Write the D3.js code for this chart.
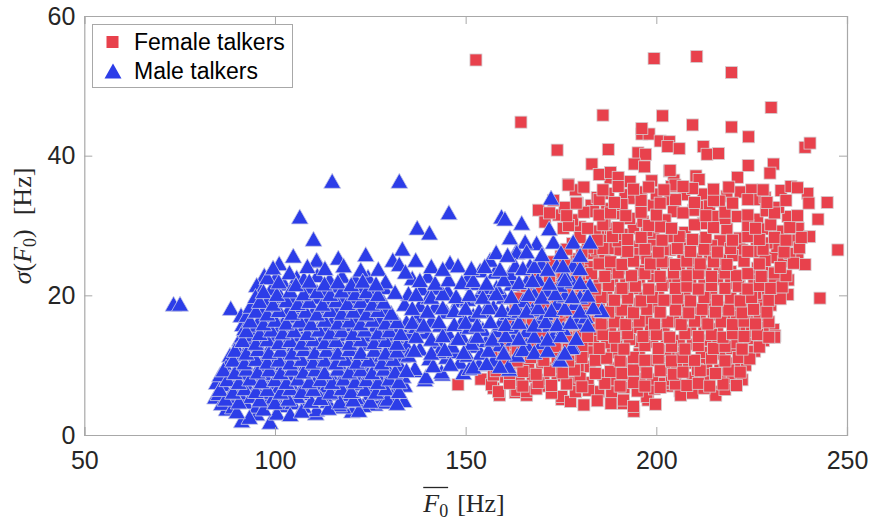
<!DOCTYPE html>
<html>
<head>
<meta charset="utf-8">
<script src="https://cdn.jsdelivr.net/npm/d3@7"></script>
<style>
  body { margin: 0; background: #fff; }
  svg { display: block; }
  .tick text { font-family: "Liberation Sans", Arial, sans-serif; font-size: 25px; fill: #262626; }
</style>
</head>
<body>
<svg width="873" height="521"></svg>
<script>
// tick values
const xTicks = [50, 100, 150, 200, 250];
const yTicks = [0, 20, 40, 60];
const seriesNames = ["Female talkers", "Male talkers"];

// [mean F0, sigma F0]
const femalePoints = [
  [152.7,53.7],[199.4,53.9],[210.6,54.2],[219.7,51.9],[230.1,46.9],[164.5,44.8],[186.0,45.8],[201.6,45.7],[209.5,44.4],[219.7,44.1],
  [224.2,42.7],[174.0,40.8],[187.4,40.9],[239.0,41.2],[240.3,41.8],[196.2,43.1],[198.1,43.1],[196.2,43.9],[201.0,42.1],[203.4,42.0],
  [203.0,41.3],[206.0,41.0],[212.3,41.3],[213.3,40.2],[216.3,40.3],[195.2,40.4],[197.2,40.2],[183.1,38.8],[194.2,38.8],[196.9,38.4],
  [203.4,37.8],[210.4,37.1],[211.2,36.6],[224.1,38.6],[230.7,38.8],[229.8,37.5],[221.3,36.9],[222.0,34.8],[225.0,35.1],[226.7,33.7],
  [232.7,35.0],[235.3,35.6],[239.7,34.6],[244.8,33.3],[218.5,34.2],[176.9,35.9],[178.8,35.1],[179.3,33.2],[182.9,32.9],[204.6,36.5],
  [204.0,35.6],[212.3,34.5],[221.2,31.3],[226.5,30.9],[228.8,32.1],[228.8,29.5],[234.5,31.3],[242.4,30.9],[237.2,29.6],[240.2,28.4],
  [235.3,27.9],[247.6,26.5],[237.1,25.1],[239.0,24.4],[230.7,25.4],[231.6,27.0],[218.5,29.5],[216.7,27.8],[221.8,28.2],[226.3,27.9],
  [225.9,26.3],[222.5,26.5],[211.9,32.7],[213.9,32.8],[215.4,31.3],[212.3,30.3],[209.7,32.2],[204.5,32.0],[202.3,30.8],[204.9,35.8],
  [207.3,34.4],[209.5,35.3],
  [242.9,19.6],[234.5,20.1],[233.3,24.8],[234.6,22.2],[228.2,19.8],[228.5,17.7],[224.4,16.2],[230.7,15.1],[231.1,14.2],[228.1,13.5],
  [222.0,15.5],[220.4,15.4],[223.3,20.9],[220.9,18.1],[225.6,22.4],[221.8,22.7],[218.0,13.7],[216.0,14.0],[222.0,11.8],[223.3,10.2],
  [216.7,11.6],[216.7,9.3],[215.5,6.2],[206.2,6.3],[202.7,7.4],[203.4,11.2],[208.4,10.3],[213.2,10.2],[218.5,8.8],[214.1,8.7],
  [148.0,7.2],[154.0,8.0],[157.3,6.7],[158.9,5.7],[163.0,6.1],[166.0,5.7],[171.1,7.0],[175.2,5.1],[178.5,7.5],[182.1,7.5],
  [184.9,6.2],[188.1,4.5],[191.4,4.5],[194.1,3.4],[197.8,5.0],[202.9,7.0],[206.4,5.7],[215.6,5.7],[219.9,8.0],[223.4,10.0],
  [231.0,14.0],[156.8,7.2],[158.6,6.2],[163.4,6.4],[166.0,6.2],[175.2,5.5],[182.2,6.4],[188.3,6.2],[191.4,5.0],[194.0,4.1],
  [197.5,5.5],[201.8,7.4],[204.0,7.9],[157.3,8.6],
  [183.5,26.0],[188.7,26.7],[194.8,27.0],[199.2,27.2],[203.6,26.5],[187.4,23.2],[194.0,21.0],[199.2,22.7],[203.6,19.3],[192.2,17.9],
  [197.5,16.5],[190.5,14.1],[195.7,13.4],[202.7,14.1],[183.5,13.6],[185.2,11.0],[192.2,10.3],[199.2,10.7],[205.3,10.3],[180.0,8.3],
  [186.1,8.6],[195.7,8.1],[181.7,17.4],[187.0,19.8],[182.6,24.1],[192.2,25.1],[202.7,24.6],[205.3,22.2],[205.3,16.5],[187.0,16.0],
  [182.6,9.8],
  [187.9,36.8],[193.1,36.3],[198.8,36.4],[203.6,37.9],[176.9,35.8],[179.1,33.2],[187.4,34.6],[191.8,34.4],[194.0,33.9],[199.2,32.9],
  [203.6,33.7],[183.5,32.0],[189.6,31.7],[194.0,29.6],[199.2,28.9],[204.0,28.4],[186.5,28.4],[174.3,31.5],[175.6,29.6],[180.0,29.8],
  [169.1,32.2],[170.8,30.5],[184.3,26.5],[190.5,26.5],[195.7,26.0],[201.8,26.5],[185.0,37.3],[188.0,37.6],[190.0,36.9],
  [177.5,4.8],[181.0,4.3],[184.5,4.9],[199.8,4.4],
  [168.5,6.6],[172.5,6.0],[178.8,6.2],[191.5,6.8],[195.0,6.3],[199.5,6.6],[209.5,6.0],[212.5,6.7],[218.0,6.5],
  [160.5,8.3],[164.0,7.8],[167.5,8.4],[170.5,7.9],[174.0,8.5],[189.2,7.9],[192.5,8.6],[199.0,8.0],[209.5,8.2],[212.8,7.6],[222.5,7.9],
  [159.0,9.6],[163.0,10.2],[166.5,9.7],[170.0,10.3],[173.2,9.6],[176.5,10.1],[179.5,9.9],[189.2,9.6],[195.8,10.0],[202.2,9.5],[210.8,9.4],[220.5,10.3],
  [158.5,11.9],[161.7,11.3],[165.2,11.8],[168.6,11.2],[172.0,11.9],[175.3,12.2],[178.7,11.4],[182.0,11.9],[188.5,11.8],[195.5,11.6],
  [202.5,12.1],[206.5,12.0],[211.8,11.8],[219.8,12.4],[225.8,12.0],
  [158.2,13.6],[161.5,13.1],[165.0,13.8],[168.2,13.2],[171.5,13.7],[175.0,13.3],[178.6,14.0],[187.0,13.2],[193.0,13.7],[199.0,13.3],
  [206.0,13.5],[209.5,13.0],[213.0,13.6],[221.0,13.2],[224.5,13.8],
  [160.0,15.3],[163.5,14.8],[167.0,15.4],[170.5,14.9],[174.0,15.3],[177.5,14.8],[181.0,15.2],[184.5,15.1],[188.0,15.6],[191.5,15.0],
  [195.0,15.4],[198.5,14.9],[202.0,15.5],[209.0,15.0],[212.5,15.6],[216.0,15.2],[225.0,14.8],[228.0,15.6],
  [162.0,16.9],[165.5,16.4],[169.0,17.0],[172.5,16.6],[176.0,17.1],[179.5,16.5],[183.0,17.0],[190.0,16.7],[193.5,17.2],[201.0,17.0],
  [204.5,16.2],[208.0,17.1],[211.5,16.6],[215.0,17.2],[218.5,16.7],[221.0,17.0],[227.0,17.1],
  [163.0,18.7],[166.5,18.2],[170.0,18.8],[173.5,18.3],[177.0,18.8],[185.0,18.5],[188.5,18.2],[195.5,18.8],[199.0,18.3],[207.0,18.6],
  [210.5,18.1],[214.0,18.9],[217.5,18.3],[224.0,18.8],[227.0,18.2],[230.0,18.6],
  [165.0,20.5],[168.5,20.0],[172.0,20.6],[176.0,20.1],[180.0,20.5],[183.5,19.9],[190.5,20.4],[197.0,20.0],[200.5,20.6],[207.5,20.1],
  [211.0,20.7],[214.5,20.2],[218.0,20.8],[226.0,20.3],[231.0,20.6],
  [167.0,22.2],[170.5,21.7],[174.0,22.3],[178.0,21.8],[181.5,22.2],[185.0,21.7],[188.5,22.3],[192.0,21.6],[195.5,22.2],[202.5,21.8],
  [209.0,22.0],[212.5,21.5],[216.0,22.3],[219.5,21.7],[228.0,22.1],[231.0,21.8],
  [170.0,23.9],[173.5,23.4],[177.0,23.9],[180.5,23.5],[190.5,23.8],[196.0,23.5],[199.5,24.0],[206.0,23.6],[209.5,24.1],[213.0,23.5],
  [216.5,24.0],[219.5,23.4],[226.5,23.9],[230.0,23.3],
  [175.0,25.6],[179.0,25.2],[186.5,25.0],[197.5,25.3],[207.0,25.7],[210.5,25.2],[214.0,25.8],[217.0,25.1],[220.0,25.7],[228.5,25.0],[235.0,26.0],
  [178.0,27.4],[182.0,26.8],[190.0,27.8],[207.5,27.3],[211.0,27.8],[214.5,27.1],[229.0,27.5],[233.0,28.6],
  [184.0,29.2],[188.0,29.6],[191.0,28.7],[197.5,29.3],[201.0,29.8],[207.5,29.0],[232.0,29.2],
  [178.0,30.8],[186.5,30.5],[193.0,31.0],[196.5,30.6],[218.0,31.0],
  [176.0,32.6],[187.0,32.4],[191.0,33.0],[232.0,32.6],[216.5,33.5],
  [196.0,34.8],[200.0,34.5],[184.5,34.0],[228.5,34.0],
  [161.5,7.4],[165.0,7.0],[169.0,7.5],[172.5,7.1],[176.5,7.3],[180.5,6.9],[186.5,7.4],[190.5,7.0],[194.0,7.5],[197.0,7.0],
  [201.0,6.8],[205.0,7.3],[208.0,7.1],[211.0,7.4],[214.0,7.0],[217.5,7.3],[221.0,7.1],
  [158.0,9.2],[161.5,8.8],[165.0,9.1],[168.5,8.7],[172.0,9.2],[175.5,8.9],[178.5,9.3],[184.0,8.8],[188.0,9.1],[191.0,8.8],
  [194.0,9.3],[197.5,8.9],[201.0,9.2],[204.5,8.7],[207.0,9.0],[211.5,9.2],[215.5,8.8],[219.0,9.3],[222.0,9.0],
  [160.0,11.0],[163.5,10.6],[167.0,11.1],[170.5,10.7],[174.0,11.0],[177.0,10.6],[180.5,11.1],[184.0,10.7],[187.0,11.0],[190.5,10.6],
  [194.0,11.1],[197.0,10.7],[200.5,11.0],[204.0,10.6],[207.0,11.1],[210.0,10.7],[214.5,11.0],[218.0,10.6],[221.5,11.1],[224.5,10.9],
  [160.0,12.7],[163.5,12.3],[167.0,12.8],[170.5,12.4],[173.5,12.7],[177.0,12.3],[180.5,12.8],[185.0,12.4],[189.5,12.7],[191.5,12.3],
  [197.0,12.8],[200.5,12.4],[204.0,12.7],[207.5,12.3],[211.0,12.8],[215.0,12.4],[218.0,12.7],[222.5,12.3],[227.0,12.6],
  [160.0,14.4],[163.5,14.0],[166.5,14.5],[170.0,14.1],[173.0,14.4],[176.5,14.0],[180.0,14.5],[182.0,14.1],[186.0,14.4],[189.0,14.0],
  [192.5,14.5],[196.5,14.1],[200.0,14.4],[203.5,14.0],[207.5,14.5],[211.0,14.1],[214.5,14.4],[217.5,14.0],[220.0,14.5],[223.0,14.1],
  [226.5,14.4],[229.5,14.0],
  [161.0,16.2],[164.0,15.8],[167.5,16.3],[171.0,15.9],[174.5,16.2],[178.0,15.8],[181.5,16.3],[185.5,15.9],[189.0,16.2],[192.0,15.8],
  [195.5,16.3],[199.5,15.9],[203.0,16.2],[206.5,15.8],[210.0,16.3],[213.5,15.9],[217.0,16.2],[220.0,15.8],[223.0,16.3],[226.0,15.9],
  [229.5,16.2],
  [163.5,17.9],[167.0,17.5],[170.5,18.0],[174.0,17.6],[177.5,17.9],[180.5,17.5],[184.0,18.0],[187.5,17.6],[191.0,17.9],[194.0,17.5],
  [197.5,18.0],[201.0,17.6],[205.0,17.9],[208.5,17.5],[212.0,18.0],[215.5,17.6],[219.0,17.9],[222.5,17.5],[225.5,18.0],[229.0,17.6],
  [164.0,19.6],[167.0,19.2],[170.5,19.7],[174.0,19.3],[178.0,19.6],[181.5,19.2],[185.5,19.7],[189.0,19.3],[192.5,19.6],[196.0,19.2],
  [199.0,19.7],[202.0,19.3],[205.5,19.6],[209.0,19.2],[212.5,19.7],[216.0,19.3],[219.5,19.6],[222.0,19.2],[225.0,19.7],[229.5,19.3],
  [232.5,19.5],
  [166.0,21.3],[169.5,20.9],[173.0,21.4],[177.0,21.0],[180.5,21.3],[184.0,20.9],[187.5,21.4],[191.0,21.0],[194.5,21.3],[198.0,20.9],
  [201.5,21.4],[205.0,21.0],[208.0,21.3],[211.0,20.9],[214.5,21.4],[218.0,21.0],[221.5,21.3],[224.0,20.9],[227.0,21.4],[230.0,21.0],
  [233.0,21.2],
  [168.5,23.1],[172.0,22.7],[175.5,23.2],[179.0,22.8],[183.0,23.1],[186.5,22.7],[190.0,23.2],[193.5,22.8],[197.0,23.1],[201.0,22.7],
  [204.5,23.2],[208.0,22.8],[211.0,23.1],[214.5,22.7],[218.0,23.2],[221.0,22.8],[224.0,23.1],[227.5,22.7],[231.0,23.2],[234.0,22.8],
  [172.0,24.8],[176.0,24.4],[179.5,24.9],[185.0,24.5],[188.0,24.8],[191.0,24.4],[194.0,24.9],[198.5,24.5],[201.5,24.8],[205.0,24.4],
  [208.0,24.9],[211.5,24.5],[215.0,24.8],[218.5,24.4],[223.0,24.9],[227.0,24.5],[232.5,24.0],[236.0,24.6],
  [176.5,26.6],[180.5,26.2],[186.0,26.7],[192.5,26.3],[197.0,26.6],[200.5,26.2],[205.5,26.7],[209.0,26.3],[212.5,26.6],[216.0,26.2],
  [219.5,26.7],[224.0,26.3],[228.0,26.6],[233.5,26.2],[237.5,26.8],
  [180.0,28.3],[184.5,27.9],[188.5,28.4],[192.5,28.0],[196.0,28.3],[201.5,27.9],[206.0,28.4],[209.5,28.0],[213.0,28.3],[220.0,27.9],
  [224.0,28.4],[227.0,28.0],[231.0,28.3],[234.0,27.9],[238.0,28.3],
  [177.0,30.0],[182.0,29.6],[186.0,30.1],[190.0,29.7],[198.0,30.0],[204.0,29.6],[210.0,30.1],[215.0,29.7],[224.0,30.0],[226.0,29.6],
  [230.0,30.1],[235.0,29.7],
  [172.0,31.8],[176.5,31.4],[181.0,31.9],[185.0,31.5],[188.0,31.8],[192.0,31.4],[196.0,31.9],[200.0,31.5],[207.0,31.8],[213.0,31.4],
  [218.0,31.9],[224.0,31.5],[231.0,31.8],[237.0,31.4],
  [173.0,33.6],[179.0,33.2],[185.0,33.7],[189.0,33.3],[196.0,33.6],[201.0,33.2],[205.0,33.7],[210.0,33.3],[215.0,33.6],[220.0,33.2],
  [224.0,33.7],[229.0,33.3],[234.0,33.6],[240.0,33.2],
  [181.0,35.5],[186.0,35.1],[190.0,35.6],[194.0,35.2],[198.0,35.5],[202.0,35.1],[207.0,35.6],[215.0,35.2],[219.0,35.5],[228.0,35.1],
  [237.0,35.4]
];

const malePoints = [
  [73.4,18.8],[75.1,18.8],
  [115.0,36.4],[132.6,36.4],[106.5,31.3],[145.6,31.9],[137.3,29.7],[140.5,29.0],[110.1,28.1],[133.4,26.7],
  [123.8,25.9],[116.6,25.4],[111.1,25.0],[104.8,25.7],[101.1,24.6],[110.9,25.1],[136.9,25.1],[145.9,24.7],[130.9,25.1],[132.6,24.5],
  [97.2,22.9],[100.2,22.6],[95.2,21.5],[96.5,20.8],[102.4,21.7],[105.7,22.6],[107.4,20.0],
  [88.4,18.2],[91.1,17.2],[91.5,15.9],[90.8,13.8],[88.2,11.5],[87.2,9.8],[84.7,7.6],[84.3,5.5],[91.3,2.1],[98.7,1.9],[95.2,3.1],[87.3,3.8],
  [110.7,3.2],[120.2,3.5],[117.9,4.1],[126.2,4.5],[110.9,3.7],[133.8,5.0],[131.0,7.0],[139.3,8.0],[136.5,9.3],[143.9,8.8],
  [149.4,9.0],[126.8,5.5],[124.9,6.0],[115.3,6.0],[111.8,6.4],[108.3,6.0],[110.5,8.8],[123.2,10.3],[126.7,12.2],[131.3,13.4],
  [130.2,10.7],[136.7,9.6],[139.6,8.4],[143.7,9.1],[145.0,11.2],[142.8,13.4],[145.5,14.6],[149.2,16.5],[145.0,17.7],[148.1,19.3],
  [142.0,21.1],[145.3,20.7],[138.5,21.0],[143.0,12.0],[147.1,12.0],[152.6,12.8],
  [86.0,4.6],[89.0,4.1],[92.2,4.8],[95.3,4.2],[98.0,4.9],[101.5,4.3],[104.6,4.7],[107.5,4.2],[113.8,4.9],[116.8,4.4],
  [119.9,5.0],[123.1,4.3],[128.5,4.8],[100.5,3.2],[104.0,3.0],[93.3,2.6],
  [85.2,6.0],[87.9,5.5],[90.6,6.1],[93.8,5.6],[96.9,6.2],[99.6,5.5],[102.6,6.1],[105.8,5.6],[113.0,5.8],[118.4,5.9],
  [121.3,5.4],[127.6,6.3],[130.7,5.7],
  [86.3,7.3],[89.4,6.9],[92.3,7.5],[95.4,7.0],[98.5,7.6],[101.1,7.0],[104.2,7.4],[107.2,6.9],[110.3,7.5],[113.5,7.1],
  [116.7,7.6],[119.8,7.0],[122.9,7.4],[125.6,7.0],[128.7,7.7],[134.0,7.2],
  [85.6,8.7],[88.1,8.3],[91.1,8.9],[94.2,8.4],[97.1,8.9],[100.3,8.2],[103.3,8.8],[106.1,8.3],[113.5,8.6],[115.1,8.3],
  [118.3,8.9],[121.5,8.4],[124.4,8.8],[127.3,8.3],[130.5,8.9],[133.6,8.5],
  [90.4,10.1],[93.1,9.6],[96.2,10.2],[99.1,9.7],[102.1,10.3],[105.2,9.7],[108.1,10.2],[111.3,9.8],[114.4,10.3],[117.5,9.7],
  [120.3,10.0],[126.6,10.2],[129.4,9.7],[132.7,10.1],
  [91.6,11.6],[94.6,11.0],[97.7,11.5],[100.6,11.1],[103.6,11.7],[106.8,11.0],[109.9,11.5],[112.9,11.1],[115.9,11.7],[119.1,11.2],
  [122.1,11.6],[125.1,11.0],[127.9,11.5],[133.5,11.4],
  [90.1,12.4],[93.3,13.0],[96.1,12.5],[99.2,13.1],[102.4,12.5],[105.1,13.0],[108.3,12.6],[111.4,13.1],[114.3,12.5],[117.3,13.0],
  [120.5,12.6],[123.6,13.1],[129.7,12.7],[133.0,12.9],
  [94.1,14.4],[97.4,13.9],[100.6,14.5],[103.7,13.9],[106.7,14.4],[109.6,13.8],[112.8,14.3],[115.7,13.9],[118.9,14.5],[121.9,14.0],
  [124.9,14.4],[128.1,13.9],[131.3,14.5],[134.8,14.2],
  [92.0,15.3],[95.1,15.8],[98.4,15.2],[101.6,15.8],[104.9,15.3],[107.9,15.9],[111.1,15.3],[114.1,15.8],[117.3,15.3],[120.4,15.9],
  [123.4,15.4],[126.5,15.8],[129.6,15.2],[132.8,15.7],
  [92.6,17.2],[96.1,16.7],[99.5,17.2],[102.7,16.6],[105.7,17.1],[108.8,16.7],[112.1,17.3],[115.3,16.7],[118.5,17.1],[121.4,16.6],
  [124.6,17.2],[127.6,16.7],[130.6,17.1],[134.5,16.2],[137.5,17.0],
  [93.6,18.5],[97.1,18.0],[100.4,18.6],[103.7,18.1],[106.9,18.6],[110.3,18.0],[113.4,18.5],[116.4,18.1],[119.7,18.7],[122.7,18.1],
  [125.9,18.5],[129.1,18.0],[134.0,18.8],[138.0,18.6],[141.0,16.4],
  [94.9,19.9],[98.1,19.4],[101.5,19.9],[104.7,19.5],[111.4,19.8],[114.6,19.3],[117.8,19.9],[120.9,19.5],[124.1,19.9],[127.3,19.4],[142.0,18.5],
  [99.1,21.0],[109.1,21.2],[112.6,20.8],[115.9,21.4],[119.1,20.9],[122.3,21.3],[125.5,20.9],[128.6,21.2],[135.0,20.3],
  [98.0,22.6],[103.8,23.3],[107.6,22.4],[111.1,22.9],[114.3,22.3],[117.6,22.8],[121.1,22.3],[124.4,22.7],[136.0,22.5],[140.0,22.8],
  [99.5,24.0],[108.5,24.2],[113.1,23.9],[118.0,24.3],[122.5,23.7],[127.1,23.8],[129.0,22.0],[131.5,20.5],[134.2,23.4],
  [135.5,14.5],[139.5,14.8],[134.5,12.8],[138.0,12.4],[146.5,12.8],[135.0,11.5],[140.5,11.0],[148.5,10.5],[149.0,14.2],[140.3,19.8],
  [137.0,15.6],[143.3,15.8],[141.5,10.0],
  [90.0,3.4],[97.0,3.8],[107.0,3.5],[114.0,3.9],[122.0,3.6],
  [87.0,5.2],[90.5,4.8],[96.0,5.1],[100.0,4.7],[103.5,5.2],[109.5,4.9],[112.0,5.3],[117.0,4.8],[120.5,5.1],[125.0,4.9],[129.5,5.2],[132.0,4.6],
  [85.5,6.6],[89.0,6.2],[92.0,6.7],[95.0,6.3],[98.0,6.6],[101.5,6.2],[104.0,6.7],[107.0,6.3],[110.0,6.6],[114.5,6.2],
  [117.5,6.7],[120.0,6.3],[123.5,6.6],[126.5,6.2],[129.0,6.7],[132.5,6.3],
  [87.5,8.0],[90.5,7.6],[93.5,8.1],[96.5,7.7],[100.0,8.0],[103.0,7.6],[106.0,8.1],[109.0,7.7],[112.0,8.0],[115.0,7.6],
  [118.0,8.1],[121.0,7.7],[124.0,8.0],[127.0,7.6],[130.0,8.1],[132.5,7.7],
  [86.5,9.4],[89.5,9.0],[92.5,9.5],[95.5,9.1],[98.5,9.4],[101.5,9.0],[104.5,9.5],[107.5,9.1],[110.5,9.4],[113.0,9.0],
  [116.5,9.5],[119.5,9.1],[122.5,9.4],[125.5,9.0],[128.5,9.5],[131.5,9.1],[134.5,9.3],
  [89.0,10.8],[92.0,10.4],[95.0,10.9],[98.0,10.5],[101.0,10.8],[104.0,10.4],[107.0,10.9],[110.0,10.5],[113.0,10.8],[116.0,10.4],
  [118.5,10.9],[121.5,10.5],[124.5,10.8],[128.0,10.4],[131.0,10.9],
  [89.5,12.2],[92.5,11.8],[95.5,12.3],[98.5,11.9],[101.5,12.2],[104.5,11.8],[107.5,12.3],[110.5,11.9],[113.5,12.2],[116.5,11.8],
  [119.5,12.3],[122.5,11.9],[126.0,12.2],[129.0,11.8],[132.0,12.1],
  [91.5,13.6],[95.0,13.2],[98.0,13.7],[101.0,13.3],[104.0,13.6],[107.0,13.2],[110.0,13.7],[113.0,13.3],[116.0,13.6],[119.5,13.2],
  [122.5,13.7],[126.0,13.3],[129.0,13.6],[132.0,13.2],
  [92.5,15.0],[96.0,14.6],[99.0,15.1],[102.0,14.7],[105.0,15.0],[108.5,14.6],[111.5,15.1],[114.5,14.7],[117.5,15.0],[120.5,14.6],
  [123.5,15.1],[127.0,14.7],[130.0,15.0],[133.0,14.6],
  [93.5,16.4],[97.0,16.0],[100.0,16.5],[103.0,16.1],[106.5,16.4],[109.5,16.0],[113.0,16.5],[116.5,16.1],[119.5,16.4],[122.5,16.0],
  [125.5,16.5],[129.0,16.1],[132.0,16.3],
  [95.0,17.8],[98.0,17.4],[101.0,17.9],[104.5,17.5],[108.0,17.8],[111.0,17.4],[114.5,17.9],[117.5,17.5],[120.5,17.8],[124.0,17.4],
  [127.0,17.9],[130.5,17.5],
  [96.0,19.2],[99.5,18.8],[103.0,19.3],[106.0,18.9],[109.0,19.2],[112.5,18.8],[116.0,19.3],[119.0,18.9],[122.5,19.2],[125.5,18.8],[128.5,19.1],
  [97.0,20.6],[100.5,20.2],[104.0,20.7],[107.5,20.3],[111.0,20.6],[114.5,20.2],[117.5,20.7],[121.0,20.3],[124.0,20.6],[127.0,20.2],
  [101.0,22.0],[105.5,21.6],[109.0,22.1],[113.0,21.7],[116.5,22.0],[120.0,21.6],[123.0,22.1],[126.5,21.7],
  [151.0,9.6],[153.5,10.2],[157.3,10.8],[161.4,9.5],[161.2,9.9],[150.5,11.5],[154.0,11.8],[163.5,11.5],[174.7,11.0],[174.8,10.8],[178.0,12.8],
  [151.5,13.2],[155.5,13.6],[159.0,13.0],[162.5,13.8],[166.0,13.0],[170.0,13.3],[173.0,14.3],[177.8,12.6],
  [151.0,15.5],[154.5,15.2],[158.0,15.0],[159.0,16.0],[162.5,15.5],[166.0,15.0],[169.5,16.5],[172.0,15.8],[175.6,15.3],[179.1,16.2],
  [152.0,17.2],[155.0,17.8],[157.3,18.4],[161.0,17.5],[164.0,17.8],[167.5,18.0],[171.0,17.5],[173.9,18.9],[178.7,18.9],[181.5,17.0],[185.7,17.9],
  [150.5,19.5],[153.5,20.0],[156.5,20.5],[160.0,19.8],[165.1,19.3],[168.0,20.2],[171.3,20.8],[176.0,20.0],[180.0,19.8],
  [152.0,21.8],[155.1,21.2],[158.1,21.2],[162.1,21.7],[166.0,22.0],[169.0,22.3],[174.7,21.5],[178.0,22.0],[182.6,21.5],
  [150.8,22.8],[153.8,23.6],[157.7,23.4],[161.6,23.2],[166.9,24.3],[169.9,24.6],[173.9,24.3],[178.2,24.3],[176.0,23.0],
  [156.4,25.1],[163.4,26.5],[168.6,27.5],[173.0,27.7],[178.2,27.7],[182.6,27.7],[165.6,27.7],[161.6,28.3],[171.9,29.6],
  [159.4,31.3],[160.3,31.0],[164.7,30.4],[172.4,34.0],[163.4,26.2],
  [146.0,10.2],[152.0,9.8],[155.5,10.3],[159.0,9.9],
  [136.5,12.2],[141.0,11.8],[144.5,12.3],[149.5,11.9],[156.0,12.2],[160.0,11.8],[165.0,12.3],[168.0,11.9],[171.5,12.2],[176.0,11.8],
  [137.0,14.2],[141.0,13.8],[144.0,14.3],[148.0,13.9],[153.0,14.2],[157.0,13.8],[160.5,14.3],[164.0,13.9],[168.0,14.2],[171.5,13.8],
  [175.0,14.3],[179.0,13.9],
  [136.0,16.2],[139.0,15.8],[143.0,16.3],[147.0,15.9],[150.0,16.2],[153.0,15.8],[156.5,16.3],[160.5,15.9],[164.0,16.2],[168.0,15.8],
  [171.0,16.3],[174.0,15.9],[177.5,16.2],[182.0,15.8],
  [136.0,18.2],[140.0,17.8],[144.0,18.3],[147.0,17.9],[150.0,18.2],[153.5,17.8],[156.0,18.3],[159.5,17.9],[163.0,18.2],[166.0,17.8],
  [169.0,18.3],[172.5,17.9],[176.0,18.2],[180.0,17.8],[183.5,18.3],
  [137.0,20.2],[141.0,19.8],[144.0,20.3],[147.5,19.9],[151.0,20.2],[154.5,19.8],[158.0,20.3],[162.0,19.9],[166.5,20.2],[170.0,19.8],
  [173.5,20.3],[178.0,19.9],[182.0,20.1],
  [138.0,22.2],[142.0,21.8],[145.5,22.3],[149.0,21.9],[152.0,22.2],[155.5,21.8],[160.0,22.3],[164.0,21.9],[167.5,22.2],[172.0,21.8],
  [176.0,22.3],[180.0,21.9],
  [141.0,24.2],[144.0,23.8],[148.0,24.3],[151.5,23.9],[155.0,24.2],[159.0,23.8],[163.0,24.3],[165.0,23.9],[168.0,24.2],[171.5,23.8],
  [175.5,24.3],[180.0,23.9],
  [158.0,26.2],[161.0,25.8],[166.0,26.3],[170.0,25.9],[175.0,26.2],[180.0,25.8]
];

const red = "#e8414c", blue = "#2c3de8";
const svg = d3.select("svg");

const x = d3.scaleLinear().domain([50, 250]).range([84.3, 847]);
const y = d3.scaleLinear().domain([0, 60]).range([435, 16]);

// markers: squares for female, triangles for male
const sq = 12;
const triPath = "M0,-7.5 L8.5,7.5 L-8.5,7.5 Z";

svg.append("g")
  .selectAll("rect")
  .data(femalePoints)
  .enter().append("rect")
  .attr("x", d => x(d[0]) - sq / 2)
  .attr("y", d => y(d[1]) - sq / 2)
  .attr("width", sq)
  .attr("height", sq)
  .attr("fill", red)
  .attr("stroke", "#d4cfd2")
  .attr("stroke-width", 0.8);

svg.append("g")
  .selectAll("path")
  .data(malePoints)
  .enter().append("path")
  .attr("d", triPath)
  .attr("transform", d => `translate(${x(d[0])},${y(d[1])})`)
  .attr("fill", blue)
  .attr("stroke", "#c9cbe6")
  .attr("stroke-width", 0.8);

// axes (ticks pointing inward, box all round)
const axisCol = "#a8a8a8";
const gx = svg.append("g").attr("transform", "translate(0,435)")
  .call(d3.axisBottom(x).tickValues(xTicks).tickSize(-8).tickPadding(16).tickFormat(d3.format("d")));
const gxt = svg.append("g").attr("transform", "translate(0,16)")
  .call(d3.axisTop(x).tickValues(xTicks).tickSize(-8).tickFormat(""));
const gy = svg.append("g").attr("transform", "translate(84.3,0)")
  .call(d3.axisLeft(y).tickValues(yTicks).tickSize(-8).tickPadding(9).tickFormat(d3.format("d")));
const gyr = svg.append("g").attr("transform", "translate(847,0)")
  .call(d3.axisRight(y).tickValues(yTicks).tickSize(-8).tickFormat(""));

[gx, gxt, gy, gyr].forEach(g => {
  g.select(".domain").attr("stroke", axisCol).attr("stroke-width", 1.2);
  g.selectAll(".tick line").attr("stroke", axisCol).attr("stroke-width", 1);
});
svg.selectAll(".tick text").attr("fill", "#262626");

// axis labels (LaTeX style)
const serif = "'Liberation Serif', 'Times New Roman', serif";
const xl = svg.append("text")
  .attr("x", 464).attr("y", 512)
  .attr("text-anchor", "middle")
  .attr("font-family", serif).attr("font-size", 26).attr("fill", "#262626");
xl.append("tspan").attr("font-style", "italic").text("F");
xl.append("tspan").attr("font-size", 18).attr("dy", 5).text("0");
xl.append("tspan").attr("dy", -5).attr("dx", 9).text("[Hz]");
const fBox = xl.node().getExtentOfChar(0);
const zBox = xl.node().getExtentOfChar(1);
svg.append("line")
  .attr("x1", fBox.x).attr("x2", zBox.x + zBox.width)
  .attr("y1", 487.5).attr("y2", 487.5)
  .attr("stroke", "#262626").attr("stroke-width", 1.3);

const yl = svg.append("text")
  .attr("transform", "translate(31,226) rotate(-90)")
  .attr("text-anchor", "middle")
  .attr("font-family", serif).attr("font-size", 26).attr("fill", "#262626");
yl.append("tspan").attr("font-style", "italic").text("\u03c3");
yl.append("tspan").text("(");
yl.append("tspan").attr("font-style", "italic").text("F");
yl.append("tspan").attr("font-size", 18).attr("dy", 5).text("0");
yl.append("tspan").attr("dy", -5).text(")");
yl.append("tspan").attr("dx", 14).text("[Hz]");

// legend
const lg = svg.append("g");
lg.append("rect")
  .attr("x", 92.5).attr("y", 24.5).attr("width", 200).attr("height", 63)
  .attr("fill", "#fff").attr("stroke", axisCol).attr("stroke-width", 1);
lg.append("rect")
  .attr("x", 112.5 - 6).attr("y", 42 - 6).attr("width", 12).attr("height", 12)
  .attr("fill", red);
lg.append("path")
  .attr("d", "M0,-7.5 L8.5,7.5 L-8.5,7.5 Z")
  .attr("transform", "translate(113,71)")
  .attr("fill", blue);
lg.selectAll("text.lab")
  .data(seriesNames)
  .enter().append("text")
  .attr("class", "lab")
  .attr("x", 134)
  .attr("y", (d, i) => 50 + i * 29)
  .attr("font-family", "'Liberation Sans', Arial, sans-serif")
  .attr("font-size", 23)
  .attr("fill", "#000")
  .text(d => d);
</script>
</body>
</html>
